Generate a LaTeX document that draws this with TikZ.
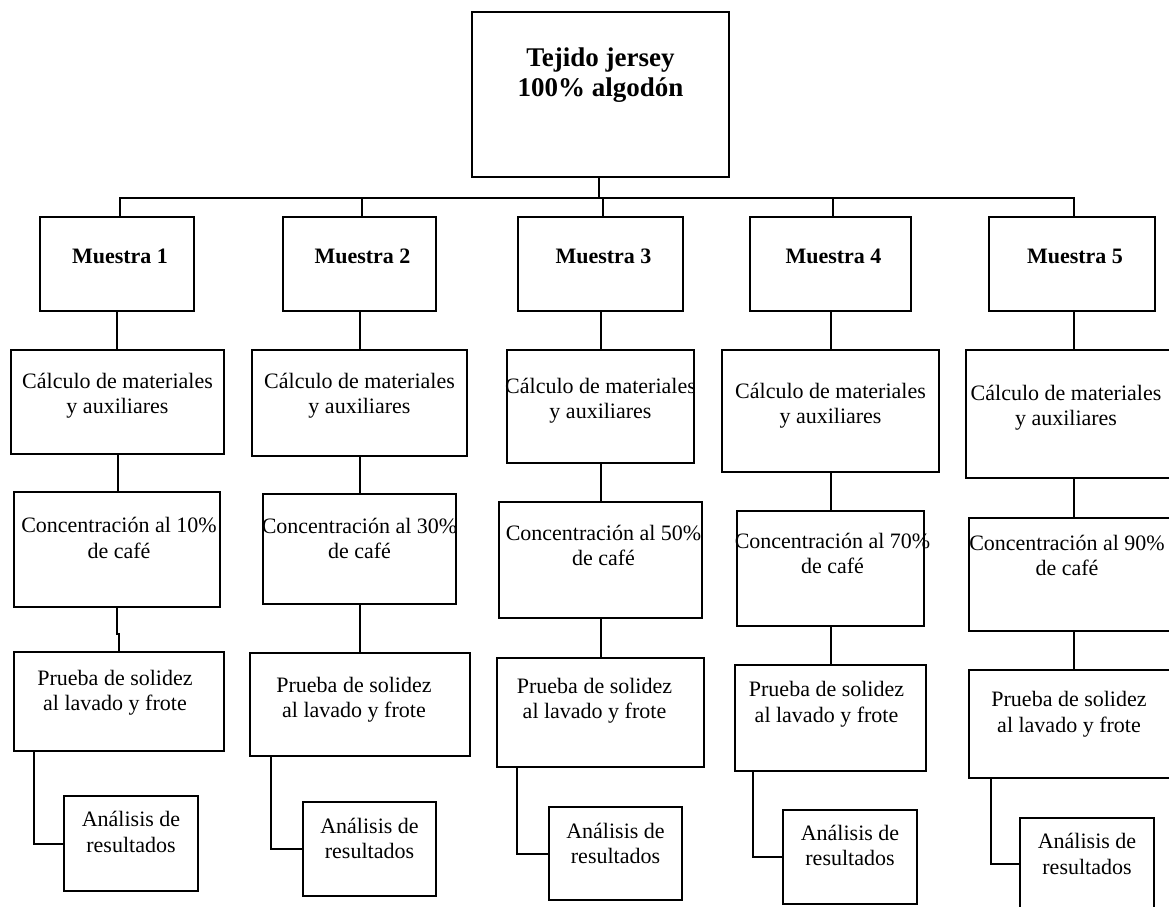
\documentclass[tikz,border=0pt]{standalone}
\usepackage{fontspec}
\setmainfont{Liberation Serif}
\usepackage{tikz}
\usetikzlibrary{positioning,calc}
\tikzset{
  stepbox/.style={
    rectangle, draw=black, line width=2pt,
    anchor=north west, inner sep=0pt
  },
  steptext/.style={
    font=\fontsize{22}{25.5}\selectfont, align=center,
    anchor=base, inner sep=0pt
  },
  headtext/.style={
    font=\bfseries\fontsize{22}{25.5}\selectfont,
    anchor=base, inner sep=0pt
  },
  titletext/.style={
    font=\bfseries\fontsize{27}{30}\selectfont, align=center,
    anchor=base, inner sep=0pt
  },
  link/.style={line width=2pt, line cap=rect},
}

\begin{document}
\begin{tikzpicture}[x=1pt, y=-1pt]
  \useasboundingbox (0,0) rectangle (1169,906);
  % fabric
  \node[stepbox, minimum width=257pt, minimum height=165pt] (tejido) at (471,11) {};
  \node[titletext] (tejidot) at ([yshift=-85.7pt]tejido.north) {Tejido jersey\\100\% algodón};
  % samples
  \node[stepbox, minimum width=154pt, minimum height=94pt] (mu1) at (39,216) {};
  \node[stepbox, minimum width=153pt, minimum height=94pt] (mu2) at (282,216) {};
  \node[stepbox, minimum width=165pt, minimum height=94pt] (mu3) at (517,216) {};
  \node[stepbox, minimum width=161pt, minimum height=94pt] (mu4) at (749,216) {};
  \node[stepbox, minimum width=166pt, minimum height=94pt] (mu5) at (988,216) {};
  \node[headtext] (mu1t) at ([xshift=3pt, yshift=-47.3pt]mu1.north) {Muestra 1};
  \node[headtext] (mu2t) at ([xshift=3pt, yshift=-47.3pt]mu2.north) {Muestra 2};
  \node[headtext] (mu3t) at ([xshift=3pt, yshift=-47.3pt]mu3.north) {Muestra 3};
  \node[headtext] (mu4t) at ([xshift=3pt, yshift=-47.3pt]mu4.north) {Muestra 4};
  \node[headtext] (mu5t) at ([xshift=3pt, yshift=-47.3pt]mu5.north) {Muestra 5};
  % materials
  \node[stepbox, minimum width=213pt, minimum height=104pt] (calc1) at (10,349) {};
  \node[stepbox, minimum width=215pt, minimum height=106pt] (calc2) at (251,349) {};
  \node[stepbox, minimum width=187pt, minimum height=113pt] (calc3) at (506,349) {};
  \node[stepbox, minimum width=217pt, minimum height=122pt] (calc4) at (721,349) {};
  \node[stepbox, minimum width=216pt, minimum height=128pt] (calc5) at (965,349) {};
  \node[steptext] (calc1t) at ([yshift=-64.5pt]calc1.north) {Cálculo de materiales\\y auxiliares};
  \node[steptext] (calc2t) at ([yshift=-64.8pt]calc2.north) {Cálculo de materiales\\y auxiliares};
  \node[steptext] (calc3t) at ([yshift=-69.5pt]calc3.north) {Cálculo de materiales\\y auxiliares};
  \node[steptext] (calc4t) at ([yshift=-74.8pt]calc4.north) {Cálculo de materiales\\y auxiliares};
  \node[steptext] (calc5t) at ([xshift=-8pt, yshift=-76.5pt]calc5.north) {Cálculo de materiales\\y auxiliares};
  % concentration
  \node[stepbox, minimum width=206pt, minimum height=115pt] (conc1) at (13,491) {};
  \node[stepbox, minimum width=193pt, minimum height=110pt] (conc2) at (262,493) {};
  \node[stepbox, minimum width=203pt, minimum height=116pt] (conc3) at (498,501) {};
  \node[stepbox, minimum width=187pt, minimum height=115pt] (conc4) at (736,510) {};
  \node[stepbox, minimum width=210pt, minimum height=113pt] (conc5) at (968,517) {};
  \node[steptext] (conc1t) at ([xshift=2pt, yshift=-67.2pt]conc1.north) {Concentración al 10\%\\de café};
  \node[steptext] (conc2t) at ([yshift=-65.5pt]conc2.north) {Concentración al 30\%\\de café};
  \node[steptext] (conc3t) at ([xshift=3pt, yshift=-64.8pt]conc3.north) {Concentración al 50\%\\de café};
  \node[steptext] (conc4t) at ([xshift=2pt, yshift=-63.8pt]conc4.north) {Concentración al 70\%\\de café};
  \node[steptext] (conc5t) at ([xshift=-7pt, yshift=-58.8pt]conc5.north) {Concentración al 90\%\\de café};
  % fastness test
  \node[stepbox, minimum width=210pt, minimum height=99pt] (prueba1) at (13,651) {};
  \node[stepbox, minimum width=220pt, minimum height=103pt] (prueba2) at (249,652) {};
  \node[stepbox, minimum width=207pt, minimum height=109pt] (prueba3) at (496,657) {};
  \node[stepbox, minimum width=191pt, minimum height=106pt] (prueba4) at (734,664) {};
  \node[stepbox, minimum width=210pt, minimum height=108pt] (prueba5) at (968,669) {};
  \node[steptext] (prueba1t) at ([xshift=-4pt, yshift=-59.5pt]prueba1.north) {Prueba de solidez\\al lavado y frote};
  \node[steptext] (prueba2t) at ([xshift=-6pt, yshift=-65.8pt]prueba2.north) {Prueba de solidez\\al lavado y frote};
  \node[steptext] (prueba3t) at ([xshift=-6pt, yshift=-61.8pt]prueba3.north) {Prueba de solidez\\al lavado y frote};
  \node[steptext] (prueba4t) at ([xshift=-4pt, yshift=-58.2pt]prueba4.north) {Prueba de solidez\\al lavado y frote};
  \node[steptext] (prueba5t) at ([xshift=-5pt, yshift=-63.2pt]prueba5.north) {Prueba de solidez\\al lavado y frote};
  % results
  \node[stepbox, minimum width=134pt, minimum height=95pt] (anal1) at (63,795) {};
  \node[stepbox, minimum width=133pt, minimum height=94pt] (anal2) at (302,801) {};
  \node[stepbox, minimum width=133pt, minimum height=93pt] (anal3) at (548,806) {};
  \node[stepbox, minimum width=134pt, minimum height=94pt] (anal4) at (782,809) {};
  \node[stepbox, minimum width=134pt, minimum height=92pt] (anal5) at (1019,817) {};
  \node[steptext] (anal1t) at ([yshift=-57.2pt]anal1.north) {Análisis de\\resultados};
  \node[steptext] (anal2t) at ([yshift=-57.5pt]anal2.north) {Análisis de\\resultados};
  \node[steptext] (anal3t) at ([yshift=-57.8pt]anal3.north) {Análisis de\\resultados};
  \node[steptext] (anal4t) at ([yshift=-56.5pt]anal4.north) {Análisis de\\resultados};
  \node[steptext] (anal5t) at ([yshift=-57.1pt]anal5.north) {Análisis de\\resultados};
  % tree
  \draw[link] ([xshift=-1.5pt]tejido.south) -- ++(0,20) coordinate (bus);
  \draw[link] ([xshift=2.5pt]bus -| mu1.north) -- ([xshift=2pt]bus -| mu5.north);
  \draw[link] ([xshift=2.5pt]bus -| mu1.north) -- ([xshift=2.5pt]mu1.north);
  \draw[link] ([xshift=2.5pt]bus -| mu2.north) -- ([xshift=2.5pt]mu2.north);
  \draw[link] ([xshift=2.5pt]bus -| mu3.north) -- ([xshift=2.5pt]mu3.north);
  \draw[link] ([xshift=2.5pt]bus -| mu4.north) -- ([xshift=2.5pt]mu4.north);
  \draw[link] ([xshift=2pt]bus -| mu5.north) -- ([xshift=2pt]mu5.north);
  \draw[link] (mu1.south) -- (mu1.south |- calc1.north);
  \draw[link] (mu2.south) -- (mu2.south |- calc2.north);
  \draw[link] (mu3.south) -- (mu3.south |- calc3.north);
  \draw[link] (mu4.south) -- (mu4.south |- calc4.north);
  \draw[link] ([xshift=2pt]mu5.south) -- ([xshift=2pt]mu5.south |- calc5.north);
  \draw[link] (calc1.south) -- (calc1.south |- conc1.north);
  \draw[link] (calc2.south) -- (calc2.south |- conc2.north);
  \draw[link] (calc3.south) -- (calc3.south |- conc3.north);
  \draw[link] (calc4.south) -- (calc4.south |- conc4.north);
  \draw[link] (calc5.south) -- (calc5.south |- conc5.north);
  \draw[link] (conc1.south) -- ++(0,26) -| (prueba1.north);
  \draw[link] (conc2.south) -- (conc2.south |- prueba2.north);
  \draw[link] (conc3.south) -- (conc3.south |- prueba3.north);
  \draw[link] (conc4.south) -- (conc4.south |- prueba4.north);
  \draw[link] (conc5.south) -- (conc5.south |- prueba5.north);
  \draw[link] ([xshift=21.4pt]prueba1.south west) |- (anal1.west);
  \draw[link] ([xshift=22pt]prueba2.south west) |- (anal2.west);
  \draw[link] ([xshift=21.4pt]prueba3.south west) |- (anal3.west);
  \draw[link] ([xshift=19.2pt]prueba4.south west) |- (anal4.west);
  \draw[link] ([xshift=23pt]prueba5.south west) |- (anal5.west);
\end{tikzpicture}
\end{document}
